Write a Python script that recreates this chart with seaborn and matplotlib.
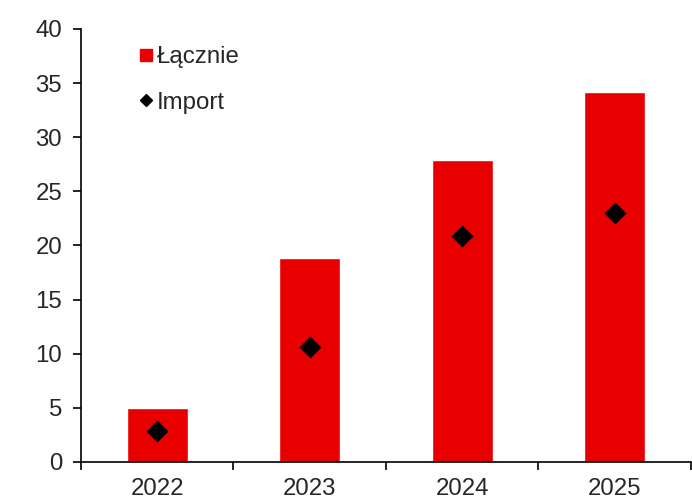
import numpy as np
import pandas as pd
import matplotlib
matplotlib.use("Agg")
import matplotlib.pyplot as plt
from matplotlib.lines import Line2D
import seaborn as sns

years = ["2022", "2023", "2024", "2025"]
total = [5.0, 18.8, 27.9, 34.2]
imports = [2.9, 10.6, 20.9, 23.0]
y_ticks = [0, 5, 10, 15, 20, 25, 30, 35, 40]

RED = "#E80000"
FS = 17.3

sns.set_style("white")
plt.rcParams["font.family"] = ["Liberation Sans", "DejaVu Sans"]

df = pd.DataFrame({"rok": years, "lacznie": total, "import": imports})

fig = plt.figure(figsize=(6.92, 5.0), dpi=100)
ax = fig.add_axes([0.117, 0.076, 0.8815, 0.866])

sns.barplot(data=df, x="rok", y="lacznie", color=RED, width=0.4,
            saturation=1, ax=ax)
sns.pointplot(data=df, x="rok", y="import", color="black", markers="D",
              linestyle="none", markersize=9.5, ax=ax, errorbar=None)

ax.set_xlim(-0.5, len(years) - 0.5)
ax.set_ylim(0, 40)
ax.set_yticks(y_ticks)
ax.set_yticklabels([str(t) for t in y_ticks], fontsize=FS)

# year labels centred under bars, tick marks on category boundaries
ax.set_xticks(np.arange(len(years)))
ax.set_xticklabels(years, fontsize=FS)
ax.tick_params(axis="x", which="major", bottom=True, length=0, pad=11.5)
ax.set_xticks(np.arange(len(years) + 1) - 0.5, minor=True)
ax.tick_params(axis="x", which="minor", bottom=True, length=5.5, width=1.2,
               direction="out", color="black")
ax.tick_params(axis="y", left=True, length=5.5, width=1.2, direction="out",
               color="black", pad=8)

ax.set_xlabel("")
ax.set_ylabel("")
for side in ("top", "right"):
    ax.spines[side].set_visible(False)
for side in ("left", "bottom"):
    ax.spines[side].set_color("black")
    ax.spines[side].set_linewidth(1.2)

handles = [
    Line2D([0], [0], marker="s", color="none", markerfacecolor=RED,
           markeredgecolor=RED, markersize=9),
    Line2D([0], [0], marker="D", color="none", markerfacecolor="black",
           markeredgecolor="black", markersize=5.8),
]
ax.legend(handles, ["Łącznie", "Import"], loc="upper left",
          bbox_to_anchor=(0.079, 0.982), frameon=False, fontsize=FS,
          handlelength=0.6, handletextpad=0.15, labelspacing=0.97,
          borderaxespad=0)

fig.savefig("out.png", dpi=100)
